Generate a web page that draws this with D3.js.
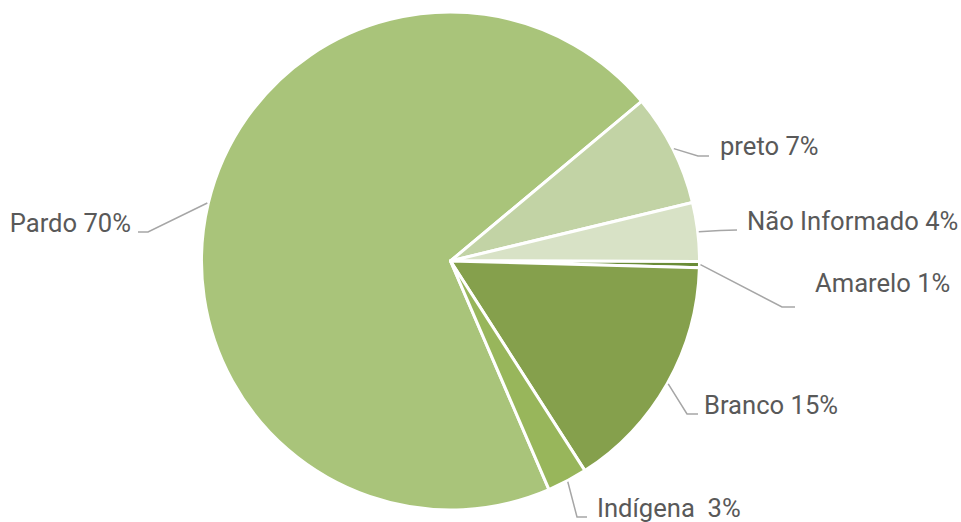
<!DOCTYPE html>
<html>
<head>
<meta charset="utf-8">
<script src="https://cdn.jsdelivr.net/npm/d3@7"></script>
<style>
  html, body { margin: 0; padding: 0; background: #fff; }
  svg { display: block; }
  text { font-family: Roboto, "Noto Sans", sans-serif; fill: #595959; }
</style>
</head>
<body>
<svg id="chart" width="961" height="522"></svg>
<script>
// ---- data ----
const categories = ["Pardo", "preto", "Não Informado", "Amarelo", "Branco", "Indígena"];
const values = [70.4, 7.3, 3.8, 0.4, 15.5, 2.6];
const percentLabels = ["70%", "7%", "4%", "1%", "15%", "3%"];
const labelSeparators = [" ", " ", " ", " ", " ", "  "];
const colors = ["#A9C47A", "#C2D3A5", "#D8E2C6", "#6A8C37", "#85A04C", "#98B65B"];

// ---- layout (label elbows / ends, in px) ----
const labelLayout = [
  { elbow: [148, 232], end: [138, 232], anchor: "end",   tx: 131, ty: 232 },
  { elbow: [698, 156], end: [709, 156], anchor: "start", tx: 720, ty: 155 },
  { elbow: [720, 230.5], end: [737, 230], anchor: "start", tx: 747, ty: 230 },
  { elbow: [782, 307], end: [795, 307], anchor: "start", tx: 815, ty: 292 },
  { elbow: [687, 414], end: [698, 414], anchor: "start", tx: 704, ty: 414 },
  { elbow: [577, 517], end: [587, 517], anchor: "start", tx: 597, ty: 517 }
];

const svg = d3.select("#chart");
const cx = 450.5, cy = 261, radius = 249;
const startDeg = 156.7 - 360;
const g = svg.append("g").attr("transform", `translate(${cx},${cy})`);

const pie = d3.pie().sort(null).value(d => d.value)
  .startAngle(startDeg * Math.PI / 180)
  .endAngle((startDeg + 360) * Math.PI / 180);

const data = categories.map((c, i) => ({ name: c, value: values[i], i }));
const arcs = pie(data);
const arc = d3.arc().innerRadius(0).outerRadius(radius);

g.selectAll("path.slice").data(arcs).enter().append("path")
  .attr("class", "slice")
  .attr("d", arc)
  .attr("fill", d => colors[d.data.i])
  .attr("stroke", "#fff")
  .attr("stroke-width", 3)
  .attr("stroke-linejoin", "round");

// leader lines
const lineG = svg.append("g");
arcs.forEach(d => {
  const a = (d.startAngle + d.endAngle) / 2;
  const sx = cx + (radius + 1) * Math.sin(a);
  const sy = cy - (radius + 1) * Math.cos(a);
  const L = labelLayout[d.data.i];
  lineG.append("polyline")
    .attr("points", [[sx, sy], L.elbow, L.end].map(p => p.join(",")).join(" "))
    .attr("fill", "none")
    .attr("stroke", "#A6A6A6")
    .attr("stroke-width", 1.5);
});

// labels
const textG = svg.append("g");
arcs.forEach(d => {
  const L = labelLayout[d.data.i];
  textG.append("text")
    .attr("x", L.tx).attr("y", L.ty)
    .attr("text-anchor", L.anchor)
    .attr("font-size", 25.6)
    .attr("xml:space", "preserve")
    .style("white-space", "pre")
    .text(d.data.name + labelSeparators[d.data.i] + percentLabels[d.data.i]);
});
</script>
</body>
</html>
